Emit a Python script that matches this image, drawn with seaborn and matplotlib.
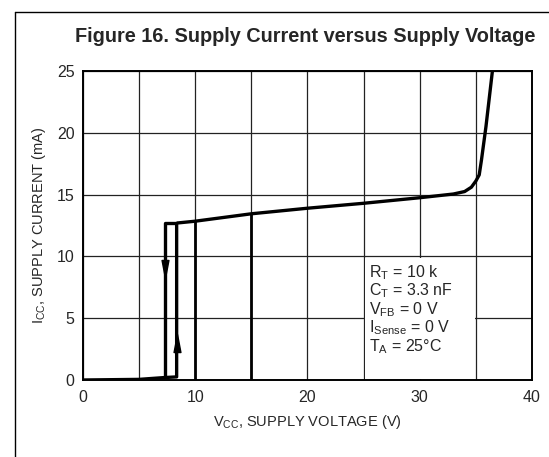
import numpy as np
import pandas as pd
import matplotlib
matplotlib.use("Agg")
import matplotlib.pyplot as plt
from matplotlib.lines import Line2D
from matplotlib.path import Path
from matplotlib.patches import Rectangle
import seaborn as sns

# ---- data ----
main_v = [8.35, 10, 15, 20, 25, 30, 33, 34, 34.6, 35.0, 35.3, 35.5, 35.9, 36.5]
main_i = [12.7, 12.85, 13.45, 13.9, 14.3, 14.75, 15.05, 15.25, 15.6, 16.1, 16.6, 17.8, 20.5, 25.2]
up_v = [0, 5, 7.3, 8.35, 8.35]
up_i = [0.0, 0.05, 0.2, 0.25, 12.7]
down_v = [8.35, 7.3, 7.3]
down_i = [12.7, 12.7, 0.2]
arrow_down = (7.3, 9.0)
arrow_up = (8.35, 3.0)
heavy_grid_v = [10, 15]
x_ticks = [0, 10, 20, 30, 40]
y_ticks = [0, 5, 10, 15, 20, 25]
title = "Figure 16. Supply Current versus Supply Voltage"
notes = [r"R$_\mathrm{T}$ = 10 k", r"C$_\mathrm{T}$ = 3.3 nF", r"V$_\mathrm{FB}$ = 0 V",
         r"I$_\mathrm{Sense}$ = 0 V", r"T$_\mathrm{A}$ = 25°C"]
notes_box_v = (25, 35)
notes_box_i = (0, 10)

sns.set_style("white")
plt.rcParams["font.family"] = ["Liberation Sans", "DejaVu Sans"]
plt.rcParams["mathtext.fontset"] = "custom"
plt.rcParams["mathtext.rm"] = "Liberation Sans"
plt.rcParams["mathtext.it"] = "Liberation Sans:italic"
plt.rcParams["mathtext.bf"] = "Liberation Sans:bold"

fig = plt.figure(figsize=(5.49, 4.57), dpi=100)
ax = fig.add_axes([0.151, 0.1685, 0.818, 0.676])

ax.set_xlim(0, 40)
ax.set_ylim(0, 25)
ax.set_xticks(np.arange(0, 41, 5))
ax.set_yticks(np.arange(0, 26, 5))
ax.grid(True, color="#222222", lw=0.9)
ax.set_axisbelow(True)

# white panel behind the condition notes (hides grid lines inside it)
ax.add_patch(Rectangle((notes_box_v[0] + 0.1, notes_box_i[0] + 0.1),
                       notes_box_v[1] - notes_box_v[0] - 0.2,
                       notes_box_i[1] - notes_box_i[0] - 0.25,
                       facecolor="white", edgecolor="none", zorder=0.9))

# heavier grid segments below the curve
for gv in heavy_grid_v:
    top = np.interp(gv, main_v, main_i)
    ax.plot([gv, gv], [0, top], color="black", lw=2.0, zorder=1)

df_main = pd.DataFrame({"V": main_v, "I": main_i})
df_up = pd.DataFrame({"V": up_v, "I": up_i})
df_down = pd.DataFrame({"V": down_v, "I": down_i})
for d in (df_main, df_up, df_down):
    sns.lineplot(data=d, x="V", y="I", sort=False, estimator=None, color="black",
                 lw=2.4, ax=ax, zorder=3, solid_capstyle="butt")

tri_down = Path([(-0.38, 1), (0.38, 1), (0, -1), (-0.38, 1)],
                [Path.MOVETO, Path.LINETO, Path.LINETO, Path.CLOSEPOLY])
tri_up = Path([(-0.38, -1), (0.38, -1), (0, 1), (-0.38, -1)],
              [Path.MOVETO, Path.LINETO, Path.LINETO, Path.CLOSEPOLY])
ax.plot([arrow_down[0]], [arrow_down[1]], marker=tri_down, ms=13, color="black", zorder=4)
ax.plot([arrow_up[0]], [arrow_up[1]], marker=tri_up, ms=13, color="black", zorder=4)

# tick labels
ax.set_xticklabels([str(t) if t in x_ticks else "" for t in range(0, 41, 5)], fontsize=11.5)
ax.set_yticklabels([str(t) for t in y_ticks], fontsize=11.5)
ax.tick_params(axis="x", length=0, pad=7)
ax.tick_params(axis="y", length=0, pad=6)

for s in ax.spines.values():
    s.set_color("black")
    s.set_linewidth(1.4)

ax.set_xlabel(r"V$_\mathrm{CC}$, SUPPLY VOLTAGE (V)", fontsize=10.5, labelpad=6)
ax.set_ylabel(r"I$_\mathrm{CC}$, SUPPLY CURRENT (mA)", fontsize=10.5, labelpad=6)

fig.text(0.5565, 0.921, title, fontsize=14.3, fontweight="bold", ha="center", va="center")

# condition notes
ny = 0.404
for k, n in enumerate(notes):
    fig.text(0.672, ny - k * 0.0405, n, fontsize=11.5, ha="left", va="center")

# outer frame (left and top)
fig.add_artist(Line2D([0.0273, 0.0273], [0.0, 0.974], color="black", lw=1.0))
fig.add_artist(Line2D([0.0273, 1.0], [0.974, 0.974], color="black", lw=1.0))

fig.savefig("out.png", dpi=100, facecolor="white")
